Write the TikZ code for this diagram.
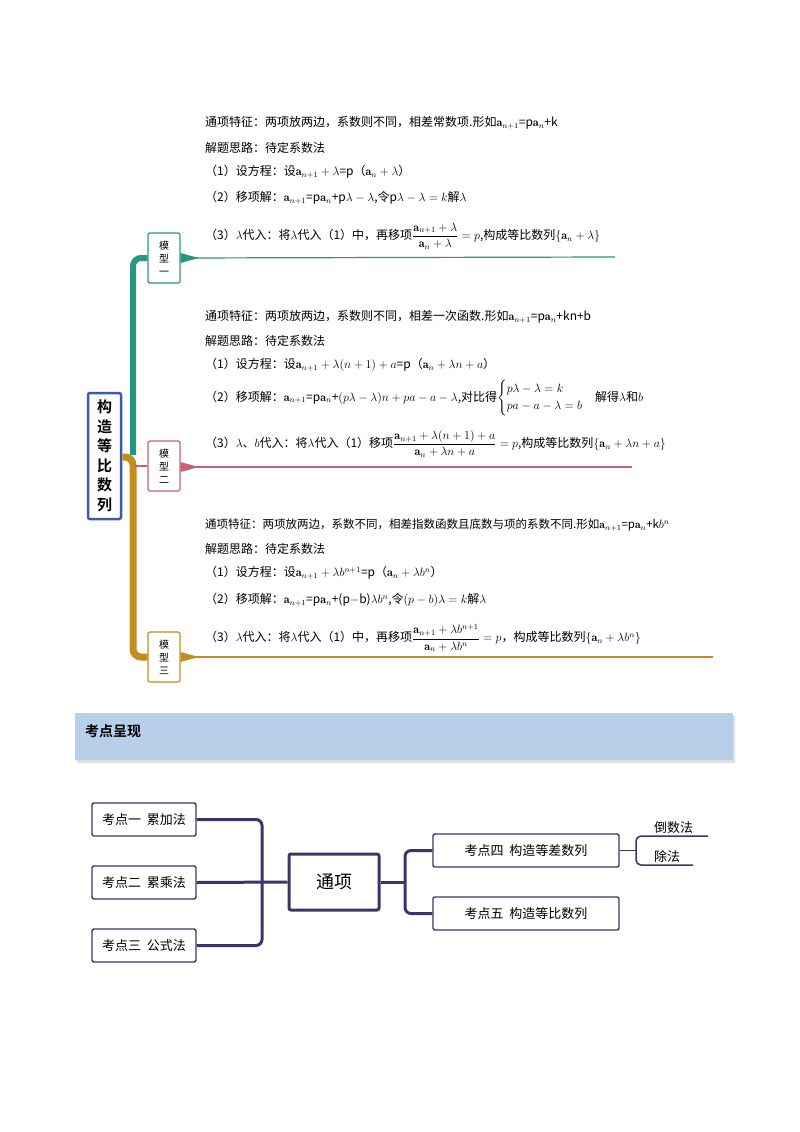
\documentclass[tikz,border=0pt]{standalone}
\usepackage{fontspec}
\usepackage{amsmath}
\newfontfamily\cjk{Noto Sans CJK SC}
\newfontfamily\cjkb{Noto Sans CJK SC Bold}
\definecolor{teal1}{RGB}{40,150,130}
\definecolor{pink1}{RGB}{205,95,115}
\definecolor{gold1}{RGB}{195,140,30}
\definecolor{blue1}{RGB}{60,90,180}
\definecolor{navy}{RGB}{55,55,105}
\definecolor{band}{RGB}{183,207,232}
\begin{document}
\begin{tikzpicture}[x=1pt,y=-1pt,
  txt/.style={anchor=west,inner sep=0pt,font=\cjk\fontsize{12}{14}\selectfont},
  mbox/.style={draw,line width=1.2pt,rounded corners=2pt,minimum width=32pt,minimum height=50pt,align=center,inner sep=1pt,font=\cjk\fontsize{10}{13}\selectfont},
  kbox/.style={draw=navy,line width=1.4pt,rounded corners=2pt,minimum height=33pt,font=\cjk\fontsize{13}{15}\selectfont,inner sep=2pt},
  conn/.style={draw=navy,line width=3pt,rounded corners=6pt}]
\useasboundingbox (0,0) rectangle (800,1132);

% root
\node[draw=blue1,line width=2.5pt,rounded corners=2pt,minimum width=33pt,minimum height=126pt,align=center,font=\cjkb\fontsize{15}{19.5}\selectfont,inner sep=1pt] (root) at (104.5,456) {构\\造\\等\\比\\数\\列};

\node[mbox,draw=teal1] (m1) at (164,258) {模\\型\\一};
\node[mbox,draw=pink1] (m2) at (164,466) {模\\型\\二};
\node[mbox,draw=gold1] (m3) at (164,657) {模\\型\\三};

\coordinate (e1) at (615,257);
\coordinate (e2) at (632,467);
\coordinate (e3) at (713,657);

\draw[gold1,line width=7pt,rounded corners=8pt] (root.east |- 0,457) -- (133,457) -- (133,657) -- (m3.west);
\draw[teal1,line width=6pt,rounded corners=8pt] (133,455) -- (133,258) -- (m1.west);
\draw[pink1,line width=2pt] (134,466) -- (m2.west);
\draw[teal1,line width=1.2pt] (m1.east) -- (e1);
\fill[teal1] (m1.east) ++(0,-5) -- ++(18,5) -- ++(-18,5) -- cycle;
\draw[pink1,line width=1.2pt] (m2.east |- e2) -- (e2);
\fill[pink1] (m2.east |- e2) ++(0,-5) -- ++(18,5) -- ++(-18,5) -- cycle;
\draw[gold1,line width=1.2pt] (m3.east) -- (e3);
\fill[gold1] (m3.east) ++(0,-5) -- ++(18,5) -- ++(-18,5) -- cycle;

% group 1
\node[txt] (a1) at (205,123) {通项特征：两项放两边，系数则不同，相差常数项.形如$\mathbf{a}_{n+1}$=p$\mathbf{a}_{n}$+k};
\node[txt] (a2) at (205,148) {解题思路：待定系数法};
\node[txt] (a3) at (205,172) {（1）设方程：设$\mathbf{a}_{n+1}+\lambda$=p（$\mathbf{a}_n+\lambda$）};
\node[txt] (a4) at (205,198) {（2）移项解：$\mathbf{a}_{n+1}$=p$\mathbf{a}_n$+p$\lambda-\lambda$,令p$\lambda-\lambda=k$解$\lambda$};
\node[txt] (a5) at (205,236) {（3）$\lambda$代入：将$\lambda$代入（1）中，再移项$\dfrac{\mathbf{a}_{n+1}+\lambda}{\mathbf{a}_n+\lambda}=p$,构成等比数列$\left\{\mathbf{a}_n+\lambda\right\}$};

% group 2
\node[txt] (b1) at (205,317) {通项特征：两项放两边，系数则不同，相差一次函数.形如$\mathbf{a}_{n+1}$=p$\mathbf{a}_{n}$+kn+b};
\node[txt] (b2) at (205,341) {解题思路：待定系数法};
\node[txt] (b3) at (205,365) {（1）设方程：设$\mathbf{a}_{n+1}+\lambda(n+1)+a$=p（$\mathbf{a}_n+\lambda n+a$）};
\node[txt] (b4) at (205,398) {（2）移项解：$\mathbf{a}_{n+1}$=p$\mathbf{a}_n$+$(p\lambda-\lambda)n+pa-a-\lambda$,对比得$\begin{cases}p\lambda-\lambda=k\\ pa-a-\lambda=b\end{cases}$解得$\lambda$和$b$};
\node[txt] (b5) at (205,444) {（3）$\lambda$、$b$代入：将$\lambda$代入（1）移项$\dfrac{\mathbf{a}_{n+1}+\lambda(n+1)+a}{\mathbf{a}_n+\lambda n+a}=p$,构成等比数列$\left\{\mathbf{a}_n+\lambda n+a\right\}$};

% group 3
\node[txt,font=\cjk\fontsize{11.5}{14}\selectfont] (c1) at (205,525) {通项特征：两项放两边，系数不同，相差指数函数且底数与项的系数不同.形如$\mathbf{a}_{n+1}$=p$\mathbf{a}_{n}$+k$b^n$};
\node[txt] (c2) at (205,549) {解题思路：待定系数法};
\node[txt] (c3) at (205,573) {（1）设方程：设$\mathbf{a}_{n+1}+\lambda b^{n+1}$=p（$\mathbf{a}_n+\lambda b^n$）};
\node[txt] (c4) at (205,600) {（2）移项解：$\mathbf{a}_{n+1}$=p$\mathbf{a}_n$+(p$-$b)$\lambda b^n$,令$(p-b)\lambda=k$解$\lambda$};
\node[txt] (c5) at (205,638) {（3）$\lambda$代入：将$\lambda$代入（1）中，再移项$\dfrac{\mathbf{a}_{n+1}+\lambda b^{n+1}}{\mathbf{a}_n+\lambda b^n}=p$，构成等比数列$\left\{\mathbf{a}_n+\lambda b^n\right\}$};

% banner
\fill[gray!25] (77,716) rectangle (735,763);
\fill[band] (75,713) rectangle (733,760);
\node[anchor=west,inner sep=0pt,font=\cjkb\fontsize{14}{16}\selectfont] (ban) at (85,731) {考点呈现};

% bottom map
\node[kbox,minimum width=104pt] (k1) at (144,819.5) {考点一\ \ 累加法};
\node[kbox,minimum width=104pt] (k2) at (144,882.5) {考点二\ \ 累乘法};
\node[kbox,minimum width=104pt] (k3) at (144,945.5) {考点三\ \ 公式法};
\node[draw=navy,line width=3pt,rounded corners=2pt,minimum width=90pt,minimum height=56pt,font=\cjk\fontsize{18}{20}\selectfont] (tx) at (334,882) {通项};
\node[kbox,minimum width=186pt] (k4) at (526,850.5) {考点四\ \ 构造等差数列};
\node[kbox,minimum width=186pt] (k5) at (526,913.5) {考点五\ \ 构造等比数列};
\node[anchor=south west,inner sep=2pt,font=\cjk\fontsize{13}{15}\selectfont] (d1) at (652,836) {倒数法};
\node[anchor=south west,inner sep=2pt,font=\cjk\fontsize{13}{15}\selectfont] (d2) at (652,865) {除法};
\coordinate (u1) at (708,836);
\coordinate (u2) at (693,865);
\coordinate (jr) at (405,882);

\draw[conn] (k1.east) -- (262,819.5) -- (262,945.5) -- (k3.east);
\draw[conn] (k2.east) -- (tx.west);
\draw[conn] (tx.east) -- (jr);
\draw[conn] (k4.west) -- (405,850.5) -- (405,913.5) -- (k5.west);
\draw[navy,line width=1.5pt] (k4.east) -- (636,850.5);
\draw[navy,line width=1.5pt,rounded corners=5pt] (u1) -- (636,836) -- (636,865) -- (u2);
\end{tikzpicture}
\end{document}
